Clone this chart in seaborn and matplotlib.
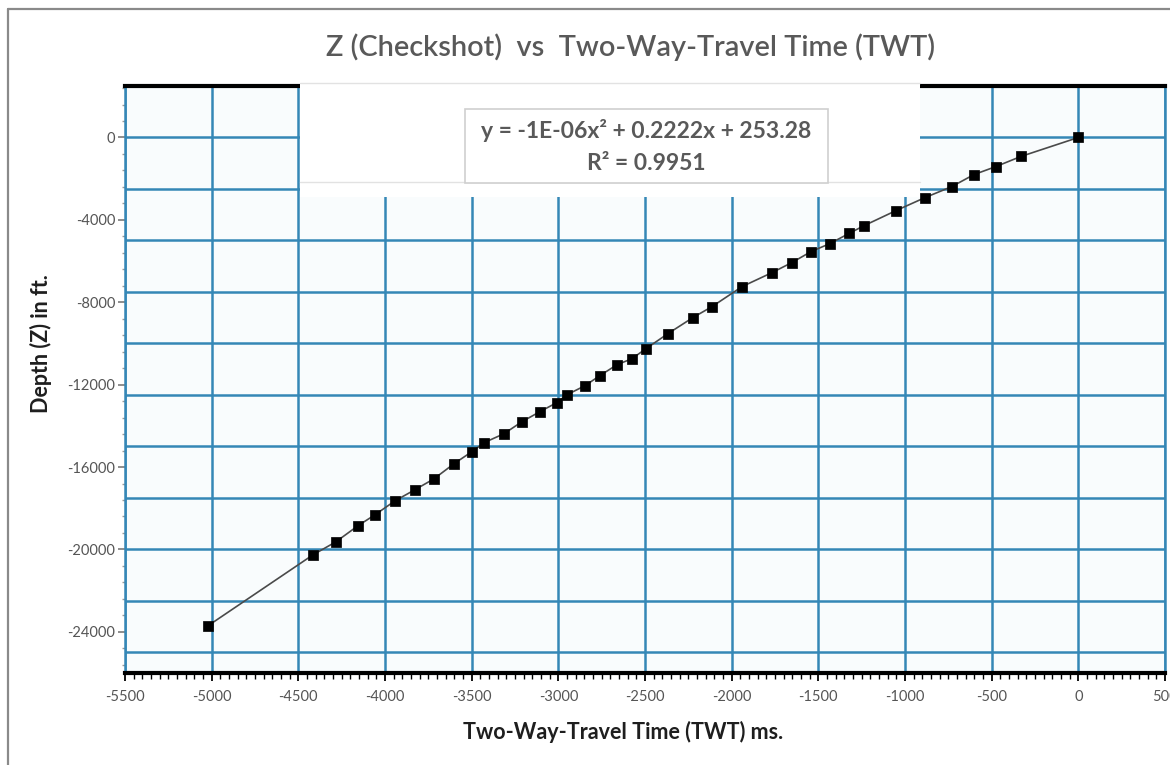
import numpy as np
import pandas as pd
import matplotlib
matplotlib.use("Agg")
import matplotlib.pyplot as plt
import seaborn as sns
from matplotlib.lines import Line2D
from matplotlib.patches import Rectangle
from matplotlib.ticker import MultipleLocator

# ---------------- data ----------------
twt_ms = [-5020, -4415, -4283, -4156, -4058, -3942, -3827, -3717, -3602, -3498,
          -3429, -3313, -3210, -3106, -3008, -2950, -2846, -2760, -2661, -2575,
          -2494, -2367, -2223, -2113, -1940, -1767, -1652, -1542, -1433, -1323,
          -1236, -1052, -885, -729, -602, -475, -331, 0]
depth_ft = [-23700, -20260, -19630, -18850, -18320, -17640, -17100, -16570, -15840, -15250,
            -14820, -14380, -13800, -13310, -12870, -12490, -12050, -11560, -11030, -10740,
            -10250, -9520, -8740, -8210, -7240, -6560, -6070, -5540, -5150, -4660,
            -4280, -3550, -2920, -2380, -1800, -1410, -920, 0]

title_text = "Z (Checkshot)  vs  Two-Way-Travel Time (TWT)"
xlabel_text = "Two-Way-Travel Time (TWT) ms."
ylabel_text = "Depth (Z) in ft."
eq_line1 = "y = -1E-06x\u00b2 + 0.2222x + 253.28"
eq_line2 = "R\u00b2 = 0.9951"

df = pd.DataFrame({"twt": twt_ms, "depth": depth_ft})

# ---------------- style ----------------
sns.set_theme(style="white")
plt.rcParams["font.family"] = ["Lato", "DejaVu Sans"]
plt.rcParams["axes.unicode_minus"] = False

W, H = 1170, 765
fig = plt.figure(figsize=(W / 100, H / 100), dpi=100)
fig.patch.set_facecolor("white")

def fx(px):
    return px / W

def fy(py):
    return 1 - py / H

ax = fig.add_axes([fx(125), fy(673), fx(1165) - fx(125), fy(86) - fy(673)])
ax.set_facecolor("#f9fcfd")

grid_c = "#3587b6"
ax.set_xlim(-5500, 500)
ax.set_ylim(-26000, 2500)

# vertical grid (major x ticks)
ax.xaxis.set_major_locator(MultipleLocator(500))
ax.xaxis.set_minor_locator(MultipleLocator(50))
ax.grid(True, axis="x", which="major", color=grid_c, lw=1.8, zorder=0)
# horizontal grid every 2500
for gy in np.arange(-25000, 2501, 2500):
    ax.axhline(gy, color=grid_c, lw=1.8, zorder=0.5)
ax.set_axisbelow(True)

ax.yaxis.set_major_locator(MultipleLocator(4000))
ax.yaxis.set_minor_locator(MultipleLocator(800))

ax.tick_params(axis="x", which="major", direction="out", length=6, width=1.3,
               color="black", labelsize=10.5, labelcolor="#555555", pad=6,
               bottom=True)
ax.tick_params(axis="x", which="minor", direction="out", length=4, width=1.0,
               color="black", bottom=True)
ax.tick_params(axis="y", which="major", direction="out", length=5, width=1.2,
               color="#7a7a7a", labelsize=10.5, labelcolor="#555555", pad=2,
               left=True)
ax.tick_params(axis="y", which="minor", direction="out", length=2.5, width=1.0,
               color="#9a9a9a", left=True)

for s in ["bottom", "top"]:
    ax.spines[s].set_color("black")
    ax.spines[s].set_linewidth(3)
ax.spines["left"].set_color(grid_c)
ax.spines["left"].set_linewidth(1.8)
ax.spines["right"].set_color(grid_c)
ax.spines["right"].set_linewidth(1.8)

# ---------------- data marks ----------------
sns.lineplot(data=df, x="twt", y="depth", sort=False, color="#4a4a4a",
             lw=1.2, ax=ax, zorder=3)
sns.scatterplot(data=df, x="twt", y="depth", marker="s", s=52, color="black",
                edgecolor="black", linewidth=0.5, ax=ax, zorder=4)
ax.set_xlabel("")
ax.set_ylabel("")

# ---------------- overlay (legend/equation area) ----------------
white_area = Rectangle((fx(300), fy(197)), fx(920) - fx(300), fy(83) - fy(197),
                       transform=fig.transFigure, facecolor="white",
                       edgecolor="none", zorder=5)
fig.add_artist(white_area)
for yy in (83, 182):
    fig.add_artist(Line2D([fx(300), fx(920)], [fy(yy), fy(yy)], color="#e2e2e2",
                          lw=1.0, zorder=6))
eq_box = Rectangle((fx(465), fy(183)), fx(828) - fx(465), fy(109) - fy(183),
                   transform=fig.transFigure, facecolor="white",
                   edgecolor="#cfcfcf", lw=1.2, zorder=7)
fig.add_artist(eq_box)
fig.text(fx(646), fy(131), eq_line1, ha="center", va="center", fontsize=16.5,
         fontweight="bold", color="#595959", zorder=8)
fig.text(fx(646), fy(164), eq_line2, ha="center", va="center", fontsize=16.5,
         fontweight="bold", color="#595959", zorder=8)

# ---------------- titles ----------------
fig.text(fx(631), fy(47), title_text, ha="center", va="center", fontsize=20.8,
         color="#595959", fontweight="semibold")
fig.text(fx(623), fy(732), xlabel_text, ha="center", va="center", fontsize=15.5,
         fontweight="bold", color="#1e1e1e")
fig.text(fx(41), fy(344), ylabel_text, ha="center", va="center", fontsize=15.5,
         fontweight="bold", color="#1e1e1e", rotation=90)

# figure frame (top and left edges visible)
fig.add_artist(Line2D([fx(8), fx(1170)], [fy(9), fy(9)], color="#8a8a8a", lw=1.6))
fig.add_artist(Line2D([fx(8), fx(8)], [fy(9), fy(765)], color="#8a8a8a", lw=1.6))

fig.savefig("out.png", dpi=100)
